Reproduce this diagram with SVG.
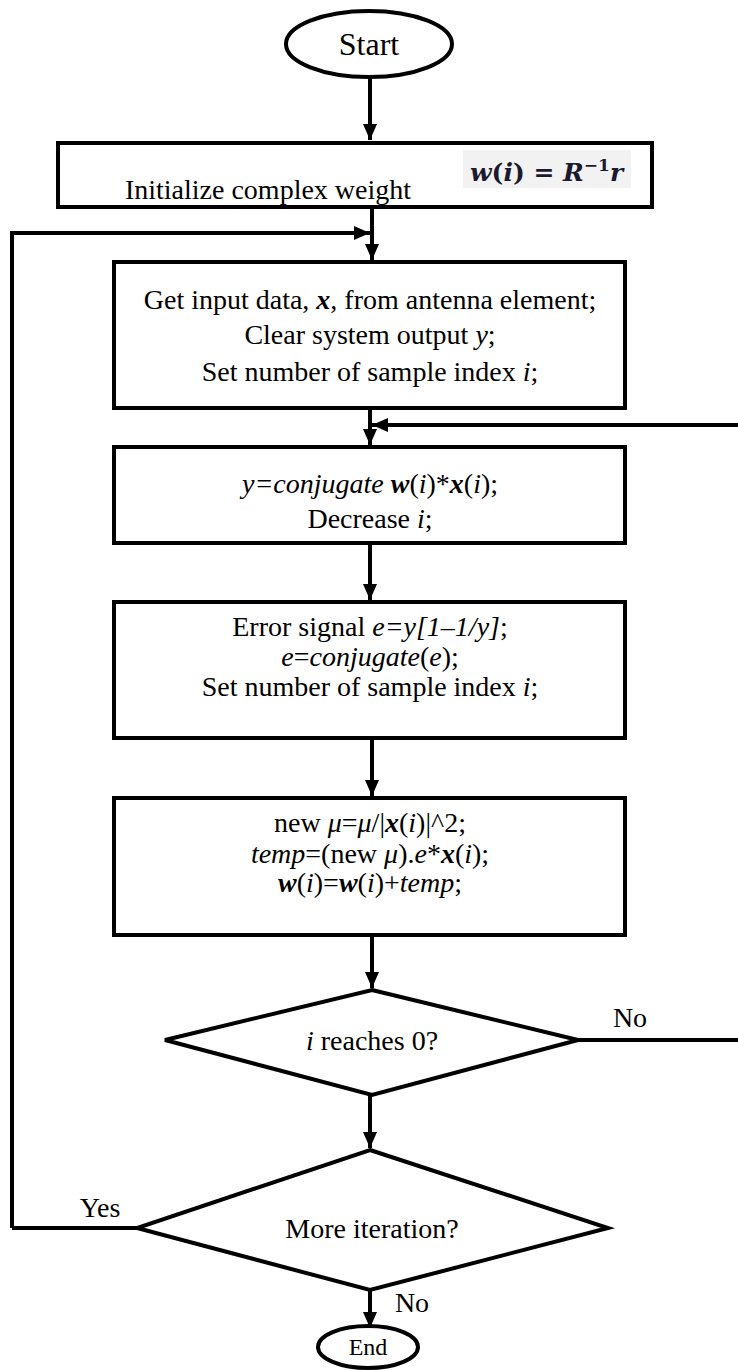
<svg xmlns="http://www.w3.org/2000/svg" width="738" height="1370" viewBox="0 0 738 1370">
<defs>
<marker id="ahb" viewBox="0 0 16 14" markerWidth="16" markerHeight="14" refX="16" refY="7" orient="auto" markerUnits="userSpaceOnUse">
<path d="M0,0 L16,7 L0,14 Z" fill="#000"/>
</marker>
<style>
.shape{fill:#fff;stroke:#000;stroke-width:4}
.conn{fill:none;stroke:#000;stroke-width:4}
.t{font-family:'Liberation Serif','Times New Roman',serif;font-size:28px;fill:#000;text-anchor:middle}
.i{font-style:italic}
.b{font-weight:bold}
</style>
</defs>
<rect width="738" height="1370" fill="#fff"/>
<g id="connectors">
<path class="conn" d="M370,78 V140" marker-end="url(#ahb)"/>
<path class="conn" d="M372,207 V260" marker-end="url(#ahb)"/>
<path class="conn" d="M12,1228 V233 H370" marker-end="url(#ahb)"/>
<path class="conn" d="M12,1228 H137"/>
<path class="conn" d="M370,408 V445" marker-end="url(#ahb)"/>
<path class="conn" d="M738,425 H372" marker-end="url(#ahb)"/>
<path class="conn" d="M370,543 V600" marker-end="url(#ahb)"/>
<path class="conn" d="M372,738 V796" marker-end="url(#ahb)"/>
<path class="conn" d="M372,935 V988" marker-end="url(#ahb)"/>
<path class="conn" d="M578,1040 H738"/>
<path class="conn" d="M370,1095 V1148" marker-end="url(#ahb)"/>
<path class="conn" d="M370,1290 V1328" marker-end="url(#ahb)"/>
<text class="t" font-family="Liberation Serif, serif" x="630" y="1027">No</text>
<text class="t" font-family="Liberation Serif, serif" x="100" y="1217">Yes</text>
<text class="t" font-family="Liberation Serif, serif" x="412" y="1312">No</text>
</g>
<g id="start">
<ellipse class="shape" cx="369" cy="44" rx="83" ry="33"/>
<text class="t" font-family="Liberation Serif, serif" x="369" y="55" style="font-size:32px">Start</text>
</g>
<g id="init">
<rect class="shape" x="58" y="143" width="594" height="64"/>
<text class="t" font-family="Liberation Serif, serif" x="268" y="199">Initialize complex weight</text>
<rect x="463" y="150" width="168" height="38" fill="#f2f2f2"/>
<text x="470" y="181" style="font-family:'DejaVu Serif','Liberation Serif',serif;font-size:25px;font-weight:bold;fill:#1a1a2e"><tspan font-style="italic">w</tspan>(<tspan font-style="italic">i</tspan>) = <tspan font-style="italic">R</tspan><tspan dy="-10" font-size="17">−1</tspan><tspan dy="10" font-style="italic">r</tspan></text>
</g>
<g id="getinput" font-family="Liberation Serif, serif">
<rect class="shape" x="114" y="262" width="511" height="146"/>
<text class="t" x="370" y="309">Get input data, <tspan class="i b">x</tspan>, from antenna element;</text>
<text class="t" x="370" y="344">Clear system output <tspan class="i">y</tspan>;</text>
<text class="t" x="370" y="381">Set number of sample index <tspan class="i">i</tspan>;</text>
</g>
<g id="compute-y" font-family="Liberation Serif, serif">
<rect class="shape" x="114" y="447" width="511" height="96"/>
<text class="t" x="370" y="493"><tspan class="i">y=conjugate </tspan><tspan class="i b">w</tspan>(<tspan class="i">i</tspan>)*<tspan class="i b">x</tspan>(<tspan class="i">i</tspan>);</text>
<text class="t" x="370" y="528">Decrease <tspan class="i">i</tspan>;</text>
</g>
<g id="error" font-family="Liberation Serif, serif">
<rect class="shape" x="114" y="602" width="511" height="136"/>
<text class="t" x="370" y="636">Error signal <tspan class="i">e=y[1–1/y]</tspan>;</text>
<text class="t" x="370" y="666"><tspan class="i">e</tspan>=<tspan class="i">conjugate</tspan>(<tspan class="i">e</tspan>);</text>
<text class="t" x="370" y="696">Set number of sample index <tspan class="i">i</tspan>;</text>
</g>
<g id="update" font-family="Liberation Serif, serif">
<rect class="shape" x="114" y="798" width="511" height="137"/>
<text class="t" x="370" y="832">new <tspan class="i">μ</tspan>=<tspan class="i">μ</tspan>/|<tspan class="i b">x</tspan>(<tspan class="i">i</tspan>)|^2;</text>
<text class="t" x="370" y="863"><tspan class="i">temp</tspan>=(new <tspan class="i">μ</tspan>).<tspan class="i">e</tspan>*<tspan class="i b">x</tspan>(<tspan class="i">i</tspan>);</text>
<text class="t" x="370" y="892"><tspan class="i b">w</tspan>(<tspan class="i">i</tspan>)=<tspan class="i b">w</tspan>(<tspan class="i">i</tspan>)+<tspan class="i">temp</tspan>;</text>
</g>
<g id="reaches0" font-family="Liberation Serif, serif">
<polygon class="shape" points="372,990 578,1040 372,1095 165,1040"/>
<text class="t" x="372" y="1050"><tspan class="i">i</tspan> reaches 0?</text>
</g>
<g id="more" font-family="Liberation Serif, serif">
<polygon class="shape" points="370,1150 608,1228 370,1290 137,1228"/>
<text class="t" x="372" y="1238">More iteration?</text>
</g>
<g id="end" font-family="Liberation Serif, serif">
<ellipse class="shape" cx="368" cy="1347" rx="50" ry="21"/>
<text class="t" x="368" y="1355" style="font-size:24px">End</text>
</g>
</svg>
